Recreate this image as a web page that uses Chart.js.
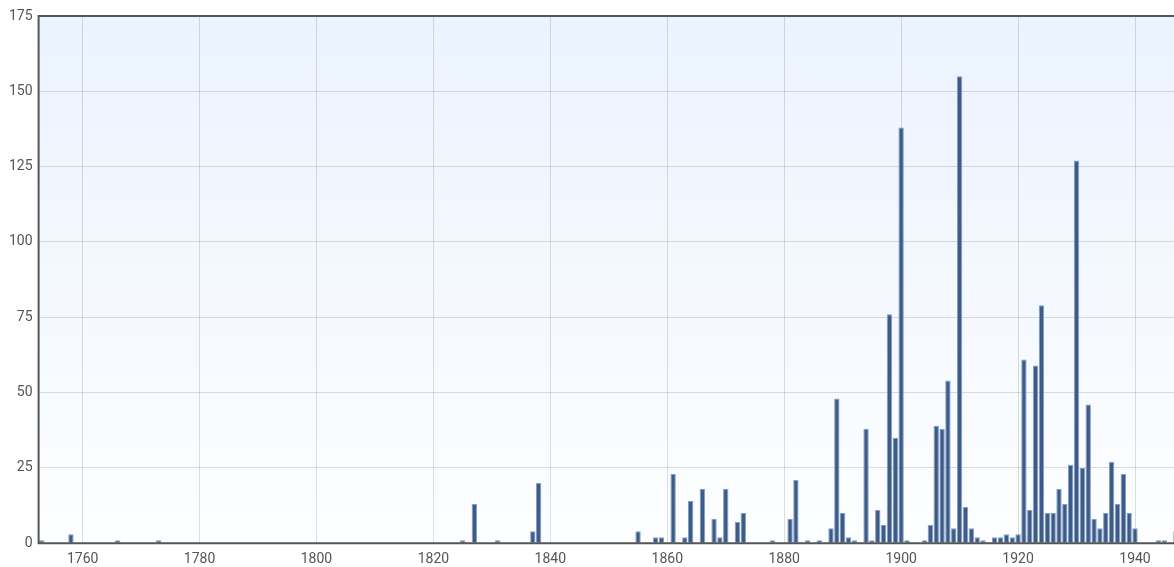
<!DOCTYPE html>
<html>
<head>
<meta charset="utf-8">
<script src="https://cdn.jsdelivr.net/npm/chart.js@4/dist/chart.umd.min.js"></script>
<style>
html,body{margin:0;padding:0;background:#fff;}
#wrap{width:1174px;height:567px;position:relative;}
</style>
</head>
<body>
<div id="wrap"><canvas id="c" width="1174" height="567"></canvas></div>
<script>
const years = [1753,1758,1766,1773,1825,1827,1831,1837,1838,1855,1858,1859,1861,1863,1864,1866,1868,1869,1870,1872,1873,1878,1881,1882,1884,1886,1888,1889,1890,1891,1892,1894,1895,1896,1897,1898,1899,1900,1901,1904,1905,1906,1907,1908,1909,1910,1911,1912,1913,1914,1916,1917,1918,1919,1920,1921,1922,1923,1924,1925,1926,1927,1928,1929,1930,1931,1932,1933,1934,1935,1936,1937,1938,1939,1940,1944,1945,1947];
const counts = [1,3,1,1,1,13,1,4,20,4,2,2,23,2,14,18,8,2,18,7,10,1,8,21,1,1,5,48,10,2,1,38,1,11,6,76,35,138,1,1,6,39,38,54,5,155,12,5,2,1,2,2,3,2,3,61,11,59,79,10,10,18,13,26,127,25,46,8,5,10,27,13,23,10,5,1,1,4];
const xTicks = [1760,1780,1800,1820,1840,1860,1880,1900,1920,1940];
const yTicks = [0,25,50,75,100,125,150,175];

const points = years.map((y,i)=>({x:y, y:counts[i]}));

const bgPlugin = {
  id:'bg',
  beforeDraw(chart){
    const {ctx, chartArea:a} = chart;
    const g = ctx.createLinearGradient(0,a.top,0,a.bottom);
    g.addColorStop(0,'#ebf3fe');
    g.addColorStop(1,'#fdfeff');
    ctx.save();
    ctx.fillStyle = g;
    ctx.fillRect(a.left,a.top,a.right-a.left,a.bottom-a.top);
    ctx.restore();
  },
  afterDraw(chart){
    const {ctx, chartArea:a} = chart;
    ctx.save();
    ctx.strokeStyle = '#555';
    ctx.lineWidth = 2;
    ctx.beginPath();
    ctx.moveTo(a.right+2, a.top);
    ctx.lineTo(a.left, a.top);
    ctx.lineTo(a.left, a.bottom);
    ctx.lineTo(a.right+2, a.bottom);
    ctx.stroke();
    ctx.restore();
  }
};

new Chart(document.getElementById('c'), {
  type:'bar',
  data:{
    datasets:[{
      data: points,
      backgroundColor:'#3c5b89',
      borderColor:'rgba(120,148,190,0.9)',
      borderWidth:1,
      barPercentage:1,
      categoryPercentage:0.92
    }]
  },
  options:{
    responsive:false,
    animation:false,
    devicePixelRatio:1,
    layout:{padding:{left:3,top:16,right:0,bottom:-9}},
    plugins:{legend:{display:false},tooltip:{enabled:false}},
    scales:{
      x:{
        type:'linear',
        min:1752.47,
        max:1946.67,
        offset:false,
        afterBuildTicks(scale){ scale.ticks = xTicks.map(v=>({value:v})); },
        ticks:{
          color:'#555',
          font:{family:'Roboto',size:14},
          padding:8,
          maxRotation:0,
          autoSkip:false,
          callback:(v)=>String(v)
        },
        grid:{color:'rgba(0,0,0,0.13)',lineWidth:1,drawTicks:false,offset:false},
        border:{display:false}
      },
      y:{
        type:'linear',
        min:0,
        max:175,
        afterBuildTicks(scale){ scale.ticks = yTicks.map(v=>({value:v})); },
        ticks:{
          color:'#555',
          font:{family:'Roboto',size:14},
          padding:6,
          callback:(v)=>String(v)
        },
        grid:{color:'rgba(0,0,0,0.13)',lineWidth:1,drawTicks:false},
        border:{display:false}
      }
    }
  },
  plugins:[bgPlugin]
});
</script>
</body>
</html>
